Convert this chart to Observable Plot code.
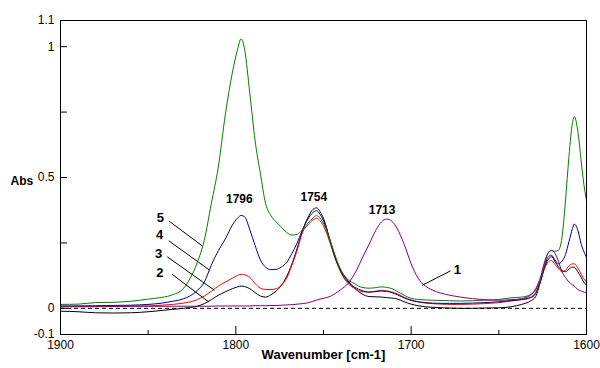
<!DOCTYPE html>
<html>
<head>
<meta charset="utf-8">
<script src="https://cdn.jsdelivr.net/npm/d3@7"></script>
<script src="https://cdn.jsdelivr.net/npm/@observablehq/plot@0.6"></script>
<style>
  html, body { margin: 0; padding: 0; background: #fff; }
  #chart { width: 600px; height: 368px; }
</style>
</head>
<body>
<div id="chart"></div>
<script>
// ---- data ----
const wavenumber = [
  1900, 1890, 1880, 1870, 1860, 1850, 1842, 1836, 1830, 1826,
  1822, 1818, 1814, 1810, 1806, 1802, 1799, 1797, 1795, 1792,
  1789, 1786, 1783, 1780, 1777, 1774, 1771, 1768, 1765, 1762,
  1759, 1756, 1754, 1752, 1749, 1746, 1743, 1740, 1736, 1732,
  1728, 1724, 1720, 1717, 1714, 1711, 1708, 1704, 1700, 1696,
  1692, 1688, 1683, 1678, 1672, 1665, 1658, 1650, 1643, 1637,
  1632, 1629, 1626, 1624, 1622, 1620, 1618, 1616, 1614, 1612,
  1610, 1608, 1607, 1605, 1603, 1602, 1600
];
const abs1 = [
  0.008, 0.008, 0.008, 0.008, 0.008, 0.008, 0.008, 0.008, 0.008, 0.008,
  0.008, 0.008, 0.008, 0.009, 0.009, 0.009, 0.009, 0.009, 0.009, 0.009,
  0.010, 0.010, 0.010, 0.011, 0.011, 0.012, 0.013, 0.014, 0.016, 0.018,
  0.021, 0.027, 0.031, 0.035, 0.040, 0.046, 0.058, 0.072, 0.095, 0.135,
  0.190, 0.245, 0.300, 0.330, 0.341, 0.333, 0.305, 0.245, 0.170, 0.115,
  0.086, 0.070, 0.058, 0.050, 0.043, 0.037, 0.033, 0.031, 0.033, 0.037,
  0.050, 0.075, 0.125, 0.175, 0.210, 0.222, 0.210, 0.180, 0.140, 0.118,
  0.100, 0.090, 0.085, 0.072, 0.066, 0.063, 0.060
];
const abs2 = [
  -0.011, -0.013, -0.017, -0.018, -0.017, -0.013, -0.008, -0.004, 0.000, 0.003,
  0.008, 0.018, 0.033, 0.050, 0.063, 0.075, 0.082, 0.085, 0.083, 0.075,
  0.060, 0.047, 0.043, 0.052, 0.066, 0.088, 0.122, 0.170, 0.230, 0.295,
  0.345, 0.378, 0.384, 0.370, 0.325, 0.250, 0.185, 0.145, 0.105, 0.075,
  0.055, 0.045, 0.044, 0.043, 0.041, 0.039, 0.036, 0.025, 0.016, 0.010,
  0.006, 0.004, 0.002, 0.001, 0.000, 0.000, 0.001, 0.002, 0.006, 0.015,
  0.028, 0.045, 0.110, 0.155, 0.185, 0.197, 0.180, 0.158, 0.145, 0.140,
  0.150, 0.158, 0.157, 0.140, 0.118, 0.105, 0.088
];
const abs3 = [
  0.006, 0.006, 0.006, 0.007, 0.008, 0.009, 0.012, 0.015, 0.020, 0.025,
  0.033, 0.047, 0.065, 0.085, 0.100, 0.115, 0.126, 0.130, 0.128, 0.118,
  0.095, 0.077, 0.072, 0.072, 0.075, 0.088, 0.115, 0.165, 0.222, 0.290,
  0.318, 0.338, 0.344, 0.335, 0.300, 0.245, 0.185, 0.135, 0.095, 0.075,
  0.064, 0.062, 0.066, 0.069, 0.067, 0.062, 0.056, 0.042, 0.032, 0.025,
  0.020, 0.018, 0.016, 0.015, 0.015, 0.016, 0.018, 0.022, 0.028, 0.033,
  0.040, 0.055, 0.105, 0.150, 0.175, 0.183, 0.168, 0.152, 0.140, 0.145,
  0.162, 0.170, 0.170, 0.155, 0.130, 0.118, 0.100
];
const abs4 = [
  0.009, 0.009, 0.010, 0.011, 0.012, 0.015, 0.020, 0.027, 0.036, 0.048,
  0.068, 0.100, 0.165, 0.220, 0.265, 0.318, 0.345, 0.355, 0.350, 0.300,
  0.240, 0.185, 0.157, 0.148, 0.149, 0.158, 0.175, 0.210, 0.250, 0.300,
  0.340, 0.366, 0.373, 0.360, 0.318, 0.255, 0.190, 0.140, 0.100, 0.080,
  0.068, 0.062, 0.064, 0.066, 0.065, 0.060, 0.052, 0.040, 0.030, 0.025,
  0.022, 0.020, 0.019, 0.019, 0.019, 0.020, 0.022, 0.025, 0.030, 0.034,
  0.042, 0.060, 0.110, 0.160, 0.195, 0.203, 0.185, 0.170, 0.180, 0.205,
  0.255, 0.305, 0.322, 0.300, 0.245, 0.225, 0.195
];
const abs5 = [
  0.015, 0.016, 0.022, 0.023, 0.027, 0.035, 0.042, 0.052, 0.075, 0.115,
  0.175, 0.260, 0.400, 0.540, 0.740, 0.900, 0.990, 1.030, 0.990, 0.820,
  0.640, 0.515, 0.400, 0.355, 0.330, 0.310, 0.290, 0.280, 0.283, 0.300,
  0.325, 0.345, 0.354, 0.345, 0.310, 0.255, 0.195, 0.145, 0.110, 0.093,
  0.080, 0.077, 0.079, 0.082, 0.080, 0.075, 0.065, 0.050, 0.038, 0.034,
  0.032, 0.031, 0.030, 0.029, 0.028, 0.029, 0.031, 0.034, 0.040, 0.043,
  0.052, 0.070, 0.115, 0.170, 0.210, 0.220, 0.218, 0.222, 0.270, 0.410,
  0.580, 0.710, 0.733, 0.680, 0.560, 0.500, 0.410
];

const seriesIds = ["2", "3", "4", "5", "1"];
const seriesValues = { "1": abs1, "2": abs2, "3": abs3, "4": abs4, "5": abs5 };

// axis ticks
const xTickLabels = [1900, 1800, 1700, 1600];
const xMajorTicks = [1800, 1700];
const xMinorTicks = [1850, 1750, 1650];
const yTickLabels = [-0.1, 0, 0.5, 1, 1.1];
const yTicks = [0, 0.25, 0.5, 0.75, 1];

// annotations
const curveLabelText = ["5", "4", "3", "2", "1"];
const curveLabelWn   = [1843, 1843.5, 1844, 1843.4, 1673.7];
const curveLabelAbs  = [0.344, 0.280, 0.210, 0.135, 0.146];
const leaderFromWn   = [1838.2, 1838.2, 1839.1, 1836.3, 1677.6];
const leaderFromAbs  = [0.334, 0.258, 0.197, 0.130, 0.143];
const leaderToWn     = [1819.2, 1815.0, 1812.2, 1815.4, 1693.7];
const leaderToAbs    = [0.239, 0.146, 0.069, 0.024, 0.088];
const peakLabels     = ["1796", "1754", "1713"];
const peakLabelWn    = [1798, 1755.5, 1716.6];
const peakLabelAbs   = [0.416, 0.424, 0.375];

// ---- styles ----
const colors = { "1": "#800080", "2": "#000000", "3": "#ff0000", "4": "#000090", "5": "#008000" };
const W = 600, H = 368, mL = 60, mR = 14, mT = 20, mB = 34;
const innerW = W - mL - mR, innerH = H - mT - mB;

const curveLabels = curveLabelText.map((t, i) => ({ t, x: curveLabelWn[i], y: curveLabelAbs[i] }));
const leaders = leaderFromWn.map((_, i) => ({ x1: leaderFromWn[i], y1: leaderFromAbs[i], x2: leaderToWn[i], y2: leaderToAbs[i] }));
const peaks = peakLabels.map((t, i) => ({ t, x: peakLabelWn[i], y: peakLabelAbs[i] }));

const lineMarks = seriesIds.map(id =>
  Plot.line(wavenumber.map((w, i) => ({ w, a: seriesValues[id][i] })), {
    x: "w", y: "a", stroke: colors[id], strokeWidth: 1, curve: "monotone-x"
  })
);

const chart = Plot.plot({
  width: W, height: H,
  marginLeft: mL, marginRight: mR, marginTop: mT, marginBottom: mB,
  style: { fontFamily: "'Liberation Sans', Arial, sans-serif", fontSize: "12px", background: "#fff", color: "#000" },
  x: { domain: [1900, 1600], label: null },
  y: { domain: [-0.1, 1.1], label: null },
  marks: [
    Plot.ruleY([0], { stroke: "#000", strokeDasharray: "4,3" }),
    ...lineMarks,
    Plot.frame({ stroke: "#000" }),
    Plot.axisY(yTickLabels, { tickSize: 0, tickPadding: 6, tickFormat: d => String(d), fontSize: 12, label: null }),
    Plot.tickY(yTicks, { y: d => d, insetRight: innerW - 7, stroke: "#000" }),
    Plot.axisX(xTickLabels, { tickSize: 0, tickPadding: 6, tickFormat: d => String(d), fontSize: 12, label: null }),
    Plot.tickX(xMajorTicks, { x: d => d, insetTop: innerH - 8, stroke: "#000" }),
    Plot.tickX(xMinorTicks, { x: d => d, insetTop: innerH - 4, stroke: "#000" }),
    Plot.link(leaders, { x1: "x1", y1: "y1", x2: "x2", y2: "y2", stroke: "#000", strokeWidth: 1 }),
    Plot.text(curveLabels, { x: "x", y: "y", text: "t", fontWeight: "bold", fontSize: 13, fill: "#000" }),
    Plot.text(peaks, { x: "x", y: "y", text: "t", fontWeight: "bold", fontSize: 12, fill: "#000" }),
    Plot.text(["Abs"], { frameAnchor: "left", dx: -50, dy: 4, textAnchor: "start", fontWeight: "bold", fontSize: 12, fill: "#000" }),
    Plot.text(["Wavenumber [cm-1]"], { frameAnchor: "bottom", dy: 24, fontWeight: "bold", fontSize: 13, fill: "#000" })
  ]
});
document.getElementById("chart").appendChild(chart);
</script>
</body>
</html>
